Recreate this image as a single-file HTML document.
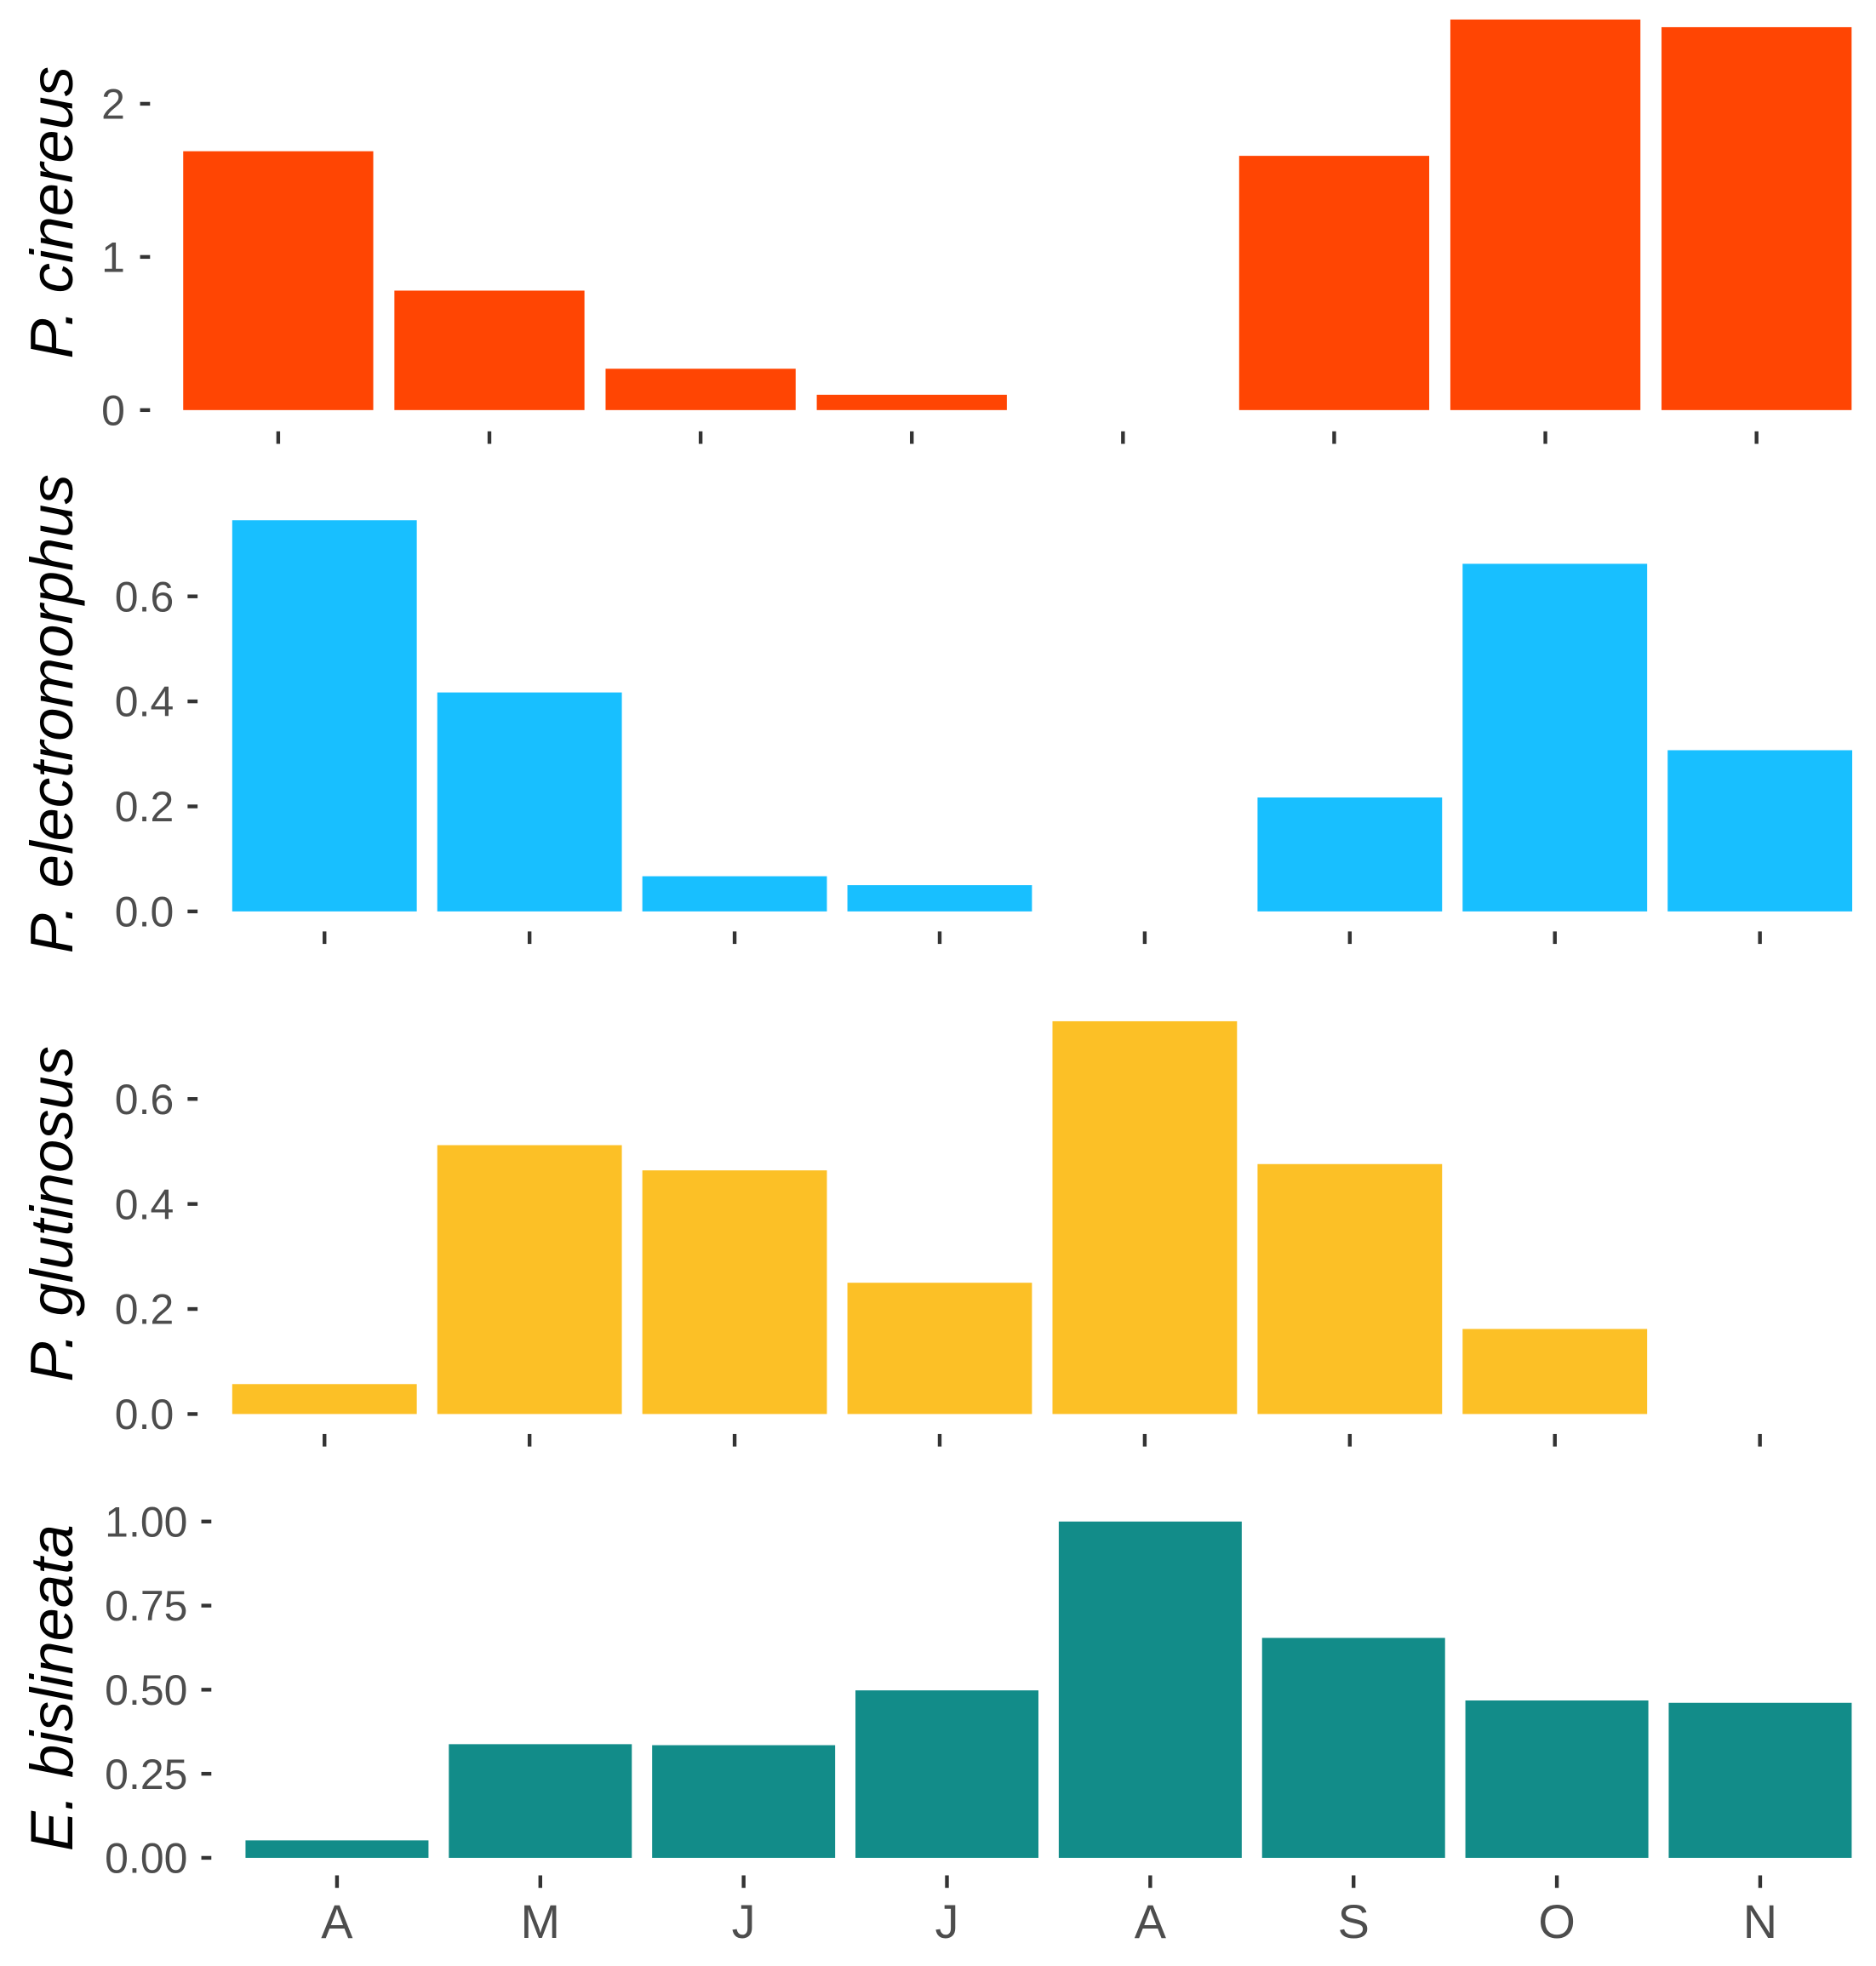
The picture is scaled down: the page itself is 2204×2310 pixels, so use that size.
<!DOCTYPE html>
<html><head><meta charset="utf-8"><style>
html,body{margin:0;padding:0;background:#fff;}
svg{display:block;}
text{font-family:"Liberation Sans",sans-serif;}
</style></head>
<body>
<svg id="chart" width="2204" height="2310" viewBox="0 0 1500.3 1572.5" xmlns="http://www.w3.org/2000/svg"></svg>
<script>
const months = ["A","M","J","J","A","S","O","N"];
const cinereusValues = [1.69, 0.78, 0.27, 0.10, 0, 1.66, 2.55, 2.50];
const electromorphusValues = [0.745, 0.417, 0.067, 0.05, 0, 0.217, 0.662, 0.307];
const glutinosusValues = [0.057, 0.512, 0.464, 0.25, 0.748, 0.476, 0.162, 0];
const bislineataValues = [0.052, 0.338, 0.335, 0.498, 1.0, 0.654, 0.468, 0.461];
const cinereusTicks = [0, 1, 2];
const electromorphusTicks = [0, 0.2, 0.4, 0.6];
const glutinosusTicks = [0, 0.2, 0.4, 0.6];
const bislineataTicks = [0, 0.25, 0.5, 0.75, 1.0];
const cinereusTickLabels = ["0","1","2"];
const electromorphusTickLabels = ["0.0","0.2","0.4","0.6"];
const glutinosusTickLabels = ["0.0","0.2","0.4","0.6"];
const bislineataTickLabels = ["0.00","0.25","0.50","0.75","1.00"];

const NS = "http://www.w3.org/2000/svg";
const svg = document.getElementById("chart");
function mk(tag, attrs, parent){
  const e = document.createElementNS(NS, tag);
  for (const k in attrs) e.setAttribute(k, attrs[k]);
  (parent||svg).appendChild(e);
  return e;
}

const panels = [
  {key:"cinereus", title:"P. cinereus", color:"#FF4503", vals:cinereusValues, ticks:cinereusTicks, labels:cinereusTickLabels,
   y0:328, unitPx:122.5, x0:222.5, step:168.9, tickX:112, labelX:100, xTickY:345, titleY:170, showX:false},
  {key:"electromorphus", title:"P. electromorphus", color:"#18BFFF", vals:electromorphusValues, ticks:electromorphusTicks, labels:electromorphusTickLabels,
   y0:729, unitPx:420, x0:259.5, step:164, tickX:150, labelX:139, xTickY:745, titleY:571, showX:false},
  {key:"glutinosus", title:"P. glutinosus", color:"#FCC026", vals:glutinosusValues, ticks:glutinosusTicks, labels:glutinosusTickLabels,
   y0:1131, unitPx:420, x0:259.5, step:164, tickX:150, labelX:139, xTickY:1147, titleY:971, showX:false},
  {key:"bislineata", title:"E. bislineata", color:"#128C89", vals:bislineataValues, ticks:bislineataTicks, labels:bislineataTickLabels,
   y0:1486, unitPx:269, x0:269.5, step:162.6, tickX:161, labelX:150, xTickY:1500, titleY:1350, showX:true}
];

panels.forEach(function(p){
  const g = mk("g", {});
  
  
  const yS = v => p.y0 - v * p.unitPx;
  const xS = i => p.x0 + i * p.step;
  const bw = p.step * 0.9;
  p.vals.forEach(function(v, i){
    if (v <= 0) return;
    const r = mk("rect", {x:xS(i)-bw/2, y:yS(v), width:bw, height:p.y0-yS(v), fill:p.color}, g);
    
    
  });
  p.ticks.forEach(function(t, i){
    const tm = mk("line", {x1:p.tickX, x2:p.tickX+8, y1:yS(t), y2:yS(t), stroke:"#333", "stroke-width":3}, g);
    
    
    const tl = mk("text", {x:p.labelX, y:yS(t)+12, "text-anchor":"end", "font-size":34, fill:"#4d4d4d"}, g);
    tl.textContent = p.labels[i];
    
    
  });
  months.forEach(function(m, i){
    const xt = mk("line", {x1:xS(i), x2:xS(i), y1:p.xTickY, y2:p.xTickY+10, stroke:"#333", "stroke-width":3}, g);
    
    
    if (p.showX){
      const xl = mk("text", {x:xS(i), y:1550, "text-anchor":"middle", "font-size":38, fill:"#4d4d4d"}, g);
      xl.textContent = m;
      
      
    }
  });
  const tt = mk("text", {x:0, y:0, transform:"translate(58,"+p.titleY+") rotate(-90)", "text-anchor":"middle", "font-size":48, "font-style":"italic", fill:"#000"}, g);
  tt.textContent = p.title;
  
  
});
</script>
</body></html>
